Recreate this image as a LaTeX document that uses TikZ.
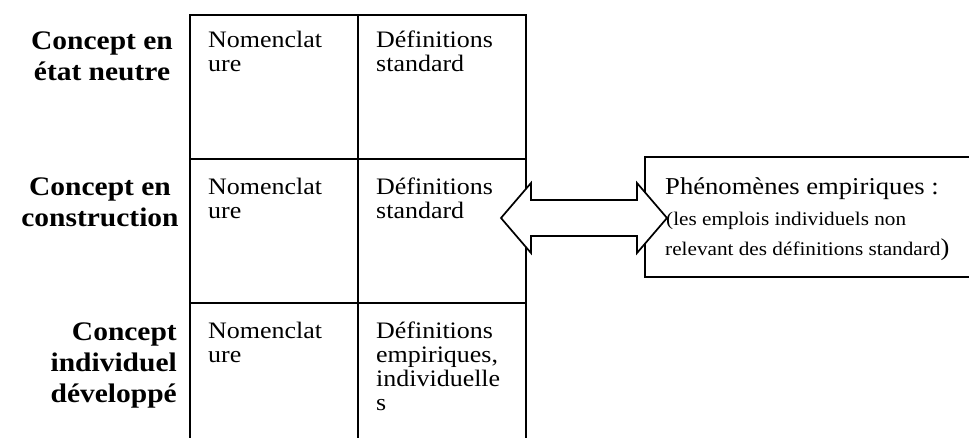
\documentclass[tikz,border=0pt]{standalone}
\usepackage{fontspec}
\setmainfont{Liberation Serif}[FakeStretch=1.1]
\usetikzlibrary{calc}

\tikzset{
  rule/.style={line width=1.7pt, line cap=rect},
  celltext/.style={anchor=north west, align=left, inner sep=0pt,
    font=\fontsize{23.6}{24}\selectfont},
  rowlabel/.style={inner sep=0pt, font=\fontsize{26.8}{31}\selectfont\bfseries},
  boxline/.style={anchor=base west, inner sep=0pt},
  bigtxt/.style={font=\fontsize{24.2}{29}\selectfont},
  smalltxt/.style={font=\fontsize{19.3}{22}\selectfont},
  twoway/.style={line width=1.7pt, fill=white, line join=miter},
}
\newcommand{\parenbig}{{\fontsize{24.2}{29}\selectfont)}}

\begin{document}
\begin{tikzpicture}[x=1pt,y=-1pt]
  \useasboundingbox (0,0) rectangle (969,438);

  % grid of the three-row table (open at the bottom)
  \coordinate (tl) at (190,15);
  \coordinate (tm) at (358,15);
  \coordinate (tr) at (526,15);
  \coordinate (bl) at (190,438);
  \coordinate (bm) at (358,438);
  \coordinate (br) at (526,438);
  \draw[rule] (bl) -- (tl) -- (tr) -- (br);
  \draw[rule] (tm) -- (bm);
  \draw[rule] (190,159) -- (526,159);
  \draw[rule] (190,303) -- (526,303);

  % box of empirical phenomena (runs off the right edge)
  \coordinate (pt) at (645,157);
  \coordinate (pb) at (645,277);
  \draw[rule] (969,157) -- (pt) -- (pb) -- (969,277);

  % cell texts
  \node[celltext] (n1) at (208,31) {Nomenclat\\ure};
  \node[celltext] (d1) at (376,31) {Définitions\\standard};
  \node[celltext] (n2) at (208,178) {Nomenclat\\ure};
  \node[celltext] (d2) at (376,178) {Définitions\\standard};
  \node[celltext] (n3) at (208,322) {Nomenclat\\ure};
  \node[celltext] (d3) at (376,322) {Définitions\\empiriques,\\individuelle\\s};

  % row labels
  \node[rowlabel, align=center, anchor=north] (r1) at (102,32) {Concept en\\état neutre};
  \node[rowlabel, align=center, anchor=north] (r2) at (100,178) {Concept en\\construction};
  \node[rowlabel, align=right, anchor=north east] (r3) at (177,323) {Concept\\individuel\\développé};

  % text of the phenomena box
  \node[boxline, bigtxt] (ph1) at (665,195) {Phénomènes empiriques :};
  \node[boxline, smalltxt] (ph2) at (666,226) {(les emplois individuels non};
  \node[boxline, smalltxt] (ph3) at (665,256) {relevant des définitions standard\parenbig};

  % double-headed block arrow between table and box
  \coordinate (ac) at (584,218);
  \draw[twoway] ($(ac)+(-83,0)$) -- ++(30,-35) -- ++(0,17) -- ++(106,0)
    -- ++(0,-17) -- ++(30,35) -- ++(-30,35) -- ++(0,-17) -- ++(-106,0)
    -- ++(0,17) -- cycle;
\end{tikzpicture}
\end{document}
